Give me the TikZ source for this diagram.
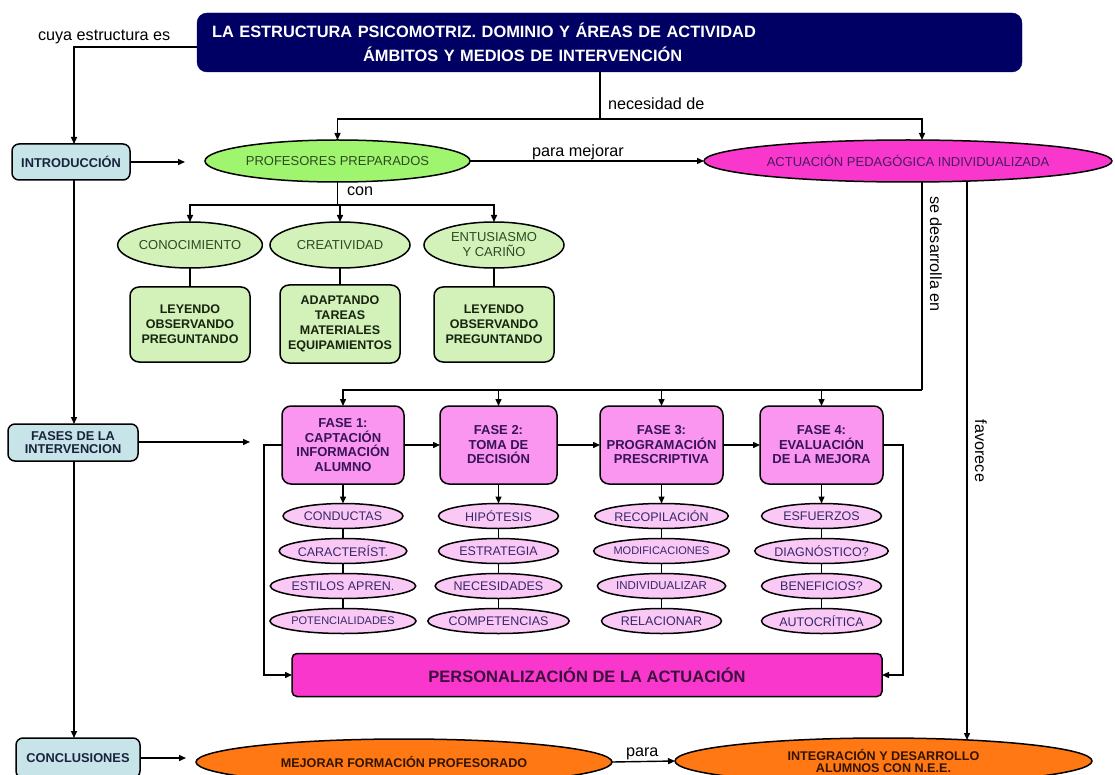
\documentclass[tikz,border=0pt]{standalone}
\usepackage{fontspec}
\setmainfont{Liberation Sans}
\usetikzlibrary{arrows.meta,shapes.geometric}

\definecolor{cnavy}{RGB}{0,0,100}
\definecolor{cblue}{RGB}{199,228,233}
\definecolor{cgreen}{RGB}{160,245,110}
\definecolor{cpale}{RGB}{210,242,185}
\definecolor{cmag}{RGB}{250,55,205}
\definecolor{cfase}{RGB}{250,150,240}
\definecolor{csub}{RGB}{250,200,245}
\definecolor{corange}{RGB}{255,120,20}
\definecolor{tblue}{RGB}{25,35,60}
\definecolor{tgreen}{RGB}{45,75,35}
\definecolor{tgreendark}{RGB}{25,35,15}
\definecolor{tpurple}{RGB}{70,25,95}
\definecolor{tfase}{RGB}{55,20,85}
\definecolor{tsub}{RGB}{55,40,105}
\definecolor{tpers}{RGB}{60,15,60}
\definecolor{torange}{RGB}{50,20,0}

\begin{document}
\begin{tikzpicture}[x=1pt,y=-1pt,
  every node/.style={inner sep=0pt,outer sep=0pt},
  ln/.style={line width=1.4pt},
  arr/.style={line width=1.4pt,-{Triangle[length=7pt,width=6pt]}},
  lbl/.style={font=\fontsize{16.2}{19}\selectfont,text=black},
  titlebox/.style={draw=cnavy,fill=cnavy,rounded corners=10pt,text=white,
    font=\fontsize{16.4}{24}\selectfont\bfseries},
  bluebox/.style={draw,line width=1.5pt,rounded corners=7pt,fill=cblue,text=tblue,
    align=center,font=\fontsize{12.8}{13}\selectfont\bfseries},
  greenell/.style={ellipse,draw,line width=1.5pt,fill=cgreen,text=tgreen,
    font=\fontsize{13}{15}\selectfont},
  paleell/.style={ellipse,draw,line width=1.5pt,fill=cpale,text=tgreen,align=center,
    minimum width=140pt,minimum height=46pt,font=\fontsize{13}{15}\selectfont},
  palebox/.style={draw,line width=1.5pt,rounded corners=9pt,fill=cpale,text=tgreendark,
    align=center,minimum width=120pt,font=\fontsize{12.5}{15}\selectfont\bfseries},
  magell/.style={ellipse,draw,line width=1.5pt,fill=cmag,text=tpurple,
    font=\fontsize{13}{15}\selectfont},
  fasebox/.style={draw,line width=1.5pt,rounded corners=9pt,fill=cfase,text=tfase,
    align=center,minimum height=78pt,font=\fontsize{13}{14.5}\selectfont\bfseries},
  subell/.style={ellipse,draw,line width=1.5pt,fill=csub,text=tsub,
    minimum width=120pt,minimum height=25pt,font=\fontsize{12.5}{14}\selectfont},
  persbox/.style={draw,line width=1.5pt,rounded corners=5pt,fill=cmag,text=tpers,
    font=\fontsize{16.5}{18}\selectfont\bfseries},
  orangeell/.style={ellipse,draw,line width=1.5pt,fill=corange,text=torange,align=center,
    minimum height=46pt,font=\fontsize{12.6}{12.5}\selectfont\bfseries}
]
\useasboundingbox (0,0) rectangle (1115,775);
\clip (0,0) rectangle (1115,775);

% column coordinates
\coordinate (col) at (74,0);
\coordinate (tl) at (197,47);
\coordinate (split) at (600,119);
\coordinate (actin) at (922,140);
\coordinate (s2) at (337.5,205);
\coordinate (dA) at (922,390);
\coordinate (fv) at (967,740);
\coordinate (lx) at (264,0);
\coordinate (rx) at (903,0);
\coordinate (ia) at (185,162);
\coordinate (fa) at (250,442);
\coordinate (ca) at (186,758);

% title
\node[titlebox,minimum width=825pt,minimum height=59pt,text width=795pt,
  inner xsep=15pt,align=left] (title) at (609.5,42.5)
  {LA ESTRUCTURA PSICOMOTRIZ. DOMINIO Y ÁREAS DE ACTIVIDAD\\\hspace*{151pt}ÁMBITOS Y MEDIOS DE INTERVENCIÓN};

% left column
\node[bluebox,minimum width=118pt,minimum height=36pt] (intro) at (71,162) {INTRODUCCIÓN};
\node[bluebox,minimum width=130pt,minimum height=37pt] (fases) at (73,442.5) {FASES DE LA\\INTERVENCION};
\node[bluebox,minimum width=124pt,minimum height=40pt] (concl) at (78,758) {CONCLUSIONES};

% second row
\node[greenell,minimum width=265pt,minimum height=42pt] (prof) at (337.5,161) {PROFESORES PREPARADOS};
\node[magell,minimum width=408pt,minimum height=42pt] (act) at (908,161) {ACTUACIÓN PEDAGÓGICA INDIVIDUALIZADA};

% qualities
\node[paleell] (cono) at (190,245) {CONOCIMIENTO};
\node[paleell] (crea) at (340,245) {CREATIVIDAD};
\node[paleell] (entu) at (494,245) {ENTUSIASMO\\Y CARIÑO};
\node[palebox,minimum height=75pt] (b1) at (190,324.5) {LEYENDO\\OBSERVANDO\\PREGUNTANDO};
\node[palebox,minimum height=78pt] (b2) at (340,324) {ADAPTANDO\\TAREAS\\MATERIALES\\EQUIPAMIENTOS};
\node[palebox,minimum height=75pt] (b3) at (494,324.5) {LEYENDO\\OBSERVANDO\\PREGUNTANDO};

% phases
\node[fasebox,minimum width=122pt] (f1) at (343,445) {FASE 1:\\CAPTACIÓN\\INFORMACIÓN\\ALUMNO};
\node[fasebox,minimum width=117pt] (f2) at (498.5,445) {FASE 2:\\TOMA DE\\DECISIÓN};
\node[fasebox,minimum width=123pt] (f3) at (661.5,445) {FASE 3:\\PROGRAMACIÓN\\PRESCRIPTIVA};
\node[fasebox,minimum width=123pt] (f4) at (821.5,445) {FASE 4:\\EVALUACIÓN\\DE LA MEJORA};

\node[subell] (s11) at (343,516) {CONDUCTAS};
\node[subell] (s12) at (343,551) {CARACTERÍST.};
\node[subell] (s13) at (343,586) {ESTILOS APREN.};
\node[subell,font=\fontsize{11}{12}\selectfont] (s14) at (343,621) {POTENCIALIDADES};

\node[subell] (s21) at (498.5,516) {HIPÓTESIS};
\node[subell] (s22) at (498.5,551) {ESTRATEGIA};
\node[subell] (s23) at (498.5,586) {NECESIDADES};
\node[subell] (s24) at (498.5,621) {COMPETENCIAS};

\node[subell] (s31) at (661.5,516) {RECOPILACIÓN};
\node[subell,font=\fontsize{11}{12}\selectfont] (s32) at (661.5,551) {MODIFICACIONES};
\node[subell,font=\fontsize{11.5}{12}\selectfont] (s33) at (661.5,586) {INDIVIDUALIZAR};
\node[subell] (s34) at (661.5,621) {RELACIONAR};

\node[subell] (s41) at (821.5,516) {ESFUERZOS};
\node[subell] (s42) at (821.5,551) {DIAGNÓSTICO?};
\node[subell] (s43) at (821.5,586) {BENEFICIOS?};
\node[subell] (s44) at (821.5,621) {AUTOCRÍTICA};

\node[persbox,minimum width=590pt,minimum height=43pt] (pers) at (587,675) {PERSONALIZACIÓN DE LA ACTUACIÓN};

% bottom row
\node[orangeell,minimum width=416pt] (mej) at (404,762) {MEJORAR FORMACIÓN PROFESORADO};
\node[orangeell,minimum width=417pt] (intg) at (883.5,761) {INTEGRACIÓN Y DESARROLLO\\ALUMNOS CON N.E.E.};

% labels
\node[lbl,anchor=base west] (lcuya) at (38,41) {cuya estructura es};
\node[lbl,anchor=base west] (lnec) at (608,110) {necesidad de};
\node[lbl,anchor=base west] (lpara) at (532,157) {para mejorar};
\node[lbl,anchor=base west] (lcon) at (347,196) {con};
\node[lbl,rotate=-90] (lsde) at (936,254) {se desarrolla en};
\node[lbl,rotate=-90] (lfav) at (981,451) {favorece};
\node[lbl,anchor=base west] (lpara2) at (626,756) {para};

% connectors: left column
\draw[arr] (tl) -| (col |- intro.north);
\draw[arr] (intro.south -| col) -- (fases.north -| col);
\draw[arr] (fases.south -| col) -- (concl.north -| col);
\draw[arr] (intro.east) -- (ia);
\draw[arr] (fases.east |- fa) -- (fa);
\draw[arr] (concl.east |- ca) -- (ca);

% title split
\draw[ln] (title.south -| split) -- (split);
\draw[arr] (split) -| (prof.north);
\draw[arr] (split) -| (actin);
\draw[arr] (prof.east) -- (act.west);

% qualities
\draw[ln] (prof.south) -- (s2);
\draw[arr] (s2) -| (cono.north);
\draw[arr] (s2) -| (crea.north);
\draw[arr] (s2) -| (entu.north);
\draw[ln] (cono.south) -- (b1.north);
\draw[ln] (crea.south) -- (b2.north);
\draw[ln] (entu.south) -- (b3.north);

% phases
\draw[ln] (act.south -| dA) -- (dA);
\foreach \f in {f1,f2,f3,f4} \draw[arr] (dA) -| (\f.north);
\draw[arr] (f1.east) -- (f2.west);
\draw[arr] (f2.east) -- (f3.west);
\draw[arr] (f3.east) -- (f4.west);
\foreach \c in {1,2,3,4} {
  \draw[arr] (f\c.south) -- (s\c1.north);
  \draw[ln] (s\c1.south) -- (s\c2.north);
  \draw[ln] (s\c2.south) -- (s\c3.north);
  \draw[ln] (s\c3.south) -- (s\c4.north);
}
\draw[arr] (f1.west) -- (f1.west -| lx) |- (pers.west);
\draw[arr] (f4.east) -- (f4.east -| rx) |- (pers.east);

% favorece
\draw[arr] (act.south -| fv) -- (fv);
\draw[arr] (mej.east) -- (intg.west);
\end{tikzpicture}
\end{document}
